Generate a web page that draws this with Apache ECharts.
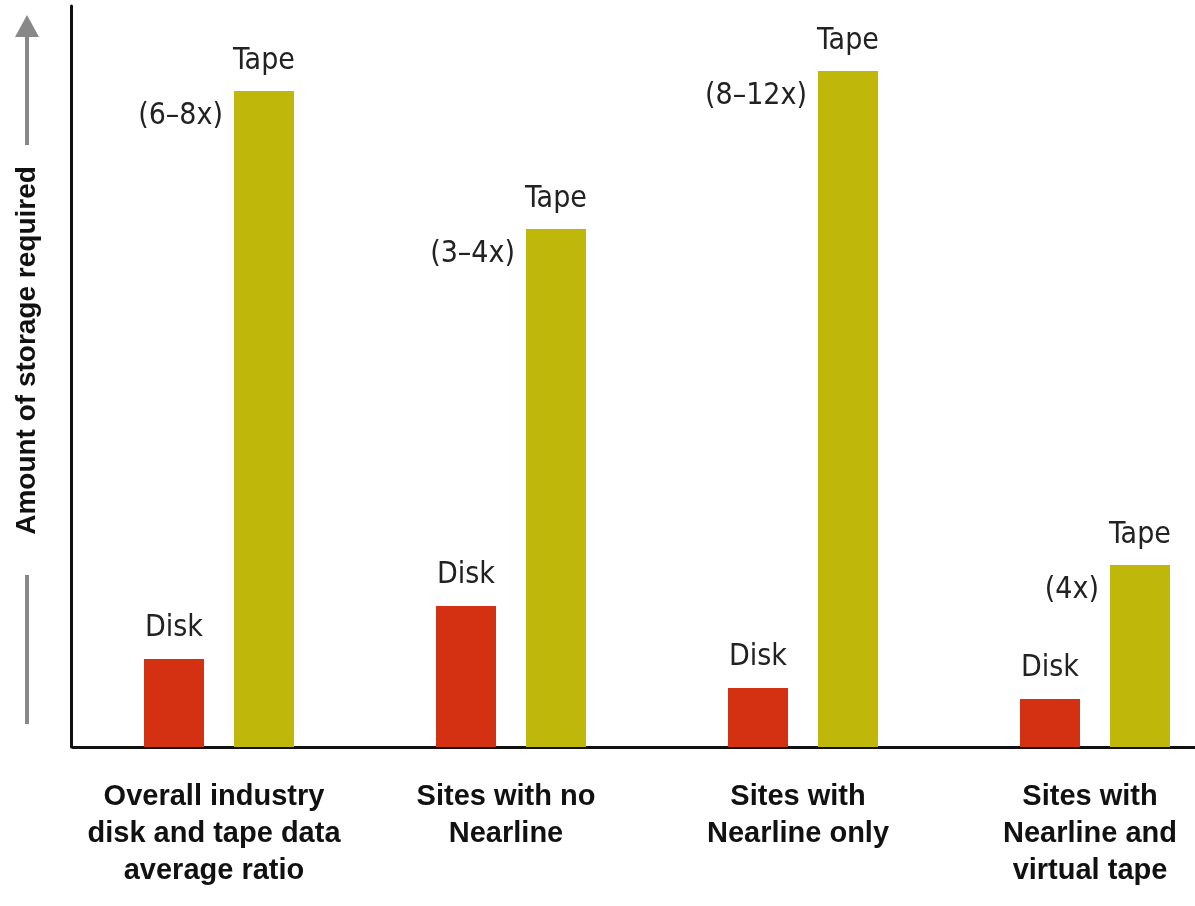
<!DOCTYPE html>
<html>
<head>
<meta charset="utf-8">
<style>
  html, body { margin: 0; padding: 0; background: #ffffff; }
  #chart { width: 1195px; height: 906px; }
</style>
<script src="https://cdn.jsdelivr.net/npm/echarts@6/dist/echarts.min.js"></script>
</head>
<body>
<div id="chart"></div>
<script>
// ---- data ----
const categories = [
  'Overall industry\ndisk and tape data\naverage ratio',
  'Sites with no\nNearline',
  'Sites with\nNearline only',
  'Sites with\nNearline and\nvirtual tape'
];
const diskValues = [88, 141, 59, 48];
const tapeValues = [656, 518, 676, 182];
const ratioLabels = ['(6\u20138x)', '(3\u20134x)', '(8\u201312x)', '(4x)'];
const yAxisName = 'Amount of storage required';
const yMax = 741;

// ---- chart ----
const chart = echarts.init(document.getElementById('chart'));
const labelFont = "'DejaVu Sans Condensed', 'Liberation Sans', sans-serif";
const boldFont = "'Liberation Sans', Arial, sans-serif";

const option = {
  backgroundColor: '#ffffff',
  animation: false,
  grid: {
    left: 73, width: 1168, top: 6, bottom: 159,
    containLabel: false,
    outerBoundsMode: 'none'
  },
  xAxis: {
    type: 'category',
    data: categories,
    boundaryGap: true,
    axisLine: { show: true, lineStyle: { color: '#111111', width: 3 } },
    axisTick: { show: false },
    splitLine: { show: false },
    axisLabel: {
      interval: 0,
      margin: 31,
      color: '#111111',
      fontFamily: boldFont,
      fontWeight: 'bold',
      fontSize: 29,
      lineHeight: 37,
      align: 'center',
      padding: [0, 10, 0, 0]
    }
  },
  yAxis: {
    type: 'value',
    min: 0,
    max: yMax,
    offset: 2,
    axisLine: { show: true, lineStyle: { color: '#111111', width: 3 } },
    axisTick: { show: false },
    axisLabel: { show: false },
    splitLine: { show: false },
    name: yAxisName,
    nameLocation: 'middle',
    nameGap: 30,
    nameRotate: 90,
    nameTextStyle: {
      color: '#111111',
      fontFamily: boldFont,
      fontWeight: 'bold',
      fontSize: 28,
      padding: [0, 0, 0, 52]
    }
  },
  series: [
    {
      name: 'Disk',
      type: 'bar',
      data: diskValues,
      barWidth: 60,
      barGap: '50%',
      itemStyle: { color: '#d43012' },
      label: {
        show: true,
        position: 'top',
        distance: 14,
        formatter: 'Disk',
        color: '#222222',
        fontFamily: labelFont,
        fontSize: 30,
        lineHeight: 34
      }
    },
    {
      name: 'Tape',
      type: 'bar',
      stack: 'tape',
      data: tapeValues,
      barWidth: 60,
      barGap: '50%',
      itemStyle: { color: '#bfb80b' },
      label: {
        show: true,
        position: 'top',
        distance: 13,
        formatter: 'Tape',
        color: '#222222',
        fontFamily: labelFont,
        fontSize: 30,
        lineHeight: 34
      }
    },
    {
      name: 'Ratio',
      type: 'bar',
      stack: 'tape',
      data: ratioLabels.map(() => 0),
      barWidth: 60,
      barGap: '50%',
      itemStyle: { color: 'rgba(0,0,0,0)' },
      label: {
        show: true,
        position: [-11, 25],
        align: 'right',
        verticalAlign: 'middle',
        formatter: (p) => ratioLabels[p.dataIndex],
        color: '#222222',
        fontFamily: labelFont,
        fontSize: 30,
        lineHeight: 34
      }
    }
  ],
  graphic: [
    {
      type: 'line',
      shape: { x1: 27, y1: 34, x2: 27, y2: 145 },
      style: { stroke: '#888888', lineWidth: 4 }
    },
    {
      type: 'polygon',
      shape: { points: [[27, 15], [15, 37], [39, 37]] },
      style: { fill: '#888888' }
    },
    {
      type: 'line',
      shape: { x1: 27, y1: 575, x2: 27, y2: 724 },
      style: { stroke: '#888888', lineWidth: 4 }
    }
  ]
};
chart.setOption(option);
</script>
</body>
</html>
